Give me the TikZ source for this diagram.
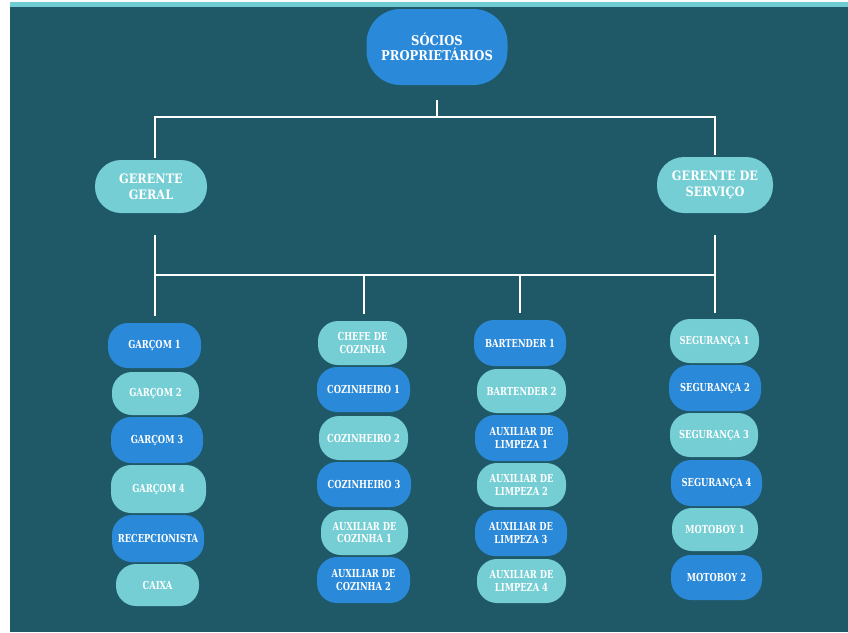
\documentclass[tikz,border=0pt]{standalone}
\usepackage{fontspec}
\setmainfont{DejaVu Serif}
\newfontfamily\lblfont{DejaVu Serif}[FakeStretch=0.76]
\newfontfamily\topfont{DejaVu Serif}[FakeStretch=0.86]
\newfontfamily\gerfont{DejaVu Serif}[FakeStretch=0.87]
\definecolor{bgc}{RGB}{31,89,104}
\definecolor{barc}{RGB}{110,204,210}
\definecolor{bluec}{RGB}{42,137,216}
\definecolor{tealc}{RGB}{116,206,212}
\tikzset{
  box/.style={rounded corners=20pt, inner sep=0pt, text=white, align=center,
    font=\lblfont\bfseries\fontsize{11}{12.5}\selectfont},
  bb/.style={box, fill=bluec},
  tb/.style={box, fill=tealc},
  conn/.style={draw=white, line width=2pt}
}
\newcommand{\bx}[7]{\node[#1, minimum width=#5pt, minimum height=#6pt] (#2) at (#3,#4) {#7};}
\begin{document}
\begin{tikzpicture}[x=1pt,y=-1pt]
\useasboundingbox (0,0) rectangle (848,632);
\fill[white] (0,0) rectangle (848,632);
\fill[bgc] (10,2) rectangle (848,632);
\fill[barc] (10,2) rectangle (848,7);

% top
\node[box, fill=bluec, rounded corners=34pt, minimum width=141pt, minimum height=76pt,
  font=\topfont\bfseries\fontsize{13.5}{15}\selectfont] (top) at (437,47) {SÓCIOS\\PROPRIETÁRIOS};
% managers
\node[box, fill=tealc, rounded corners=26pt, minimum width=112pt, minimum height=53pt,
  font=\gerfont\bfseries\fontsize{13}{16}\selectfont] (gg) at (151,186.5) {GERENTE\\GERAL};
\node[box, fill=tealc, rounded corners=27pt, minimum width=116pt, minimum height=56pt,
  font=\gerfont\bfseries\fontsize{13}{16}\selectfont] (gs) at (715,185) {GERENTE DE\\SERVIÇO};

% column 1
\bx{bb}{g1}{154.5}{345.5}{93}{45}{GARÇOM 1}
\bx{tb}{g2}{155.5}{393.5}{87}{43}{GARÇOM 2}
\bx{bb}{g3}{157}{440}{92}{46}{GARÇOM 3}
\bx{tb}{g4}{158.5}{489}{95}{48}{GARÇOM 4}
\bx{bb}{rc}{158}{538.5}{92}{47}{RECEPCIONISTA}
\bx{tb}{cx}{157.5}{585}{83}{42}{CAIXA}
% column 2
\bx{tb}{ch}{362.5}{343}{89}{44}{CHEFE DE\\COZINHA}
\bx{bb}{c1n}{363.5}{389.5}{93}{45}{COZINHEIRO 1}
\bx{tb}{c2n}{363.5}{438}{89}{44}{COZINHEIRO 2}
\bx{bb}{c3n}{364}{484.5}{94}{45}{COZINHEIRO 3}
\bx{tb}{ac1}{364.5}{532.5}{87}{45}{AUXILIAR DE\\COZINHA 1}
\bx{bb}{ac2}{363.5}{580}{93}{46}{AUXILIAR DE\\COZINHA 2}
% column 3
\bx{bb}{bt1}{520}{343}{92}{46}{BARTENDER 1}
\bx{tb}{bt2}{521.5}{391}{89}{44}{BARTENDER 2}
\bx{bb}{al1}{521.5}{438}{93}{46}{AUXILIAR DE\\LIMPEZA 1}
\bx{tb}{al2}{521.5}{485}{89}{44}{AUXILIAR DE\\LIMPEZA 2}
\bx{bb}{al3}{521}{533}{92}{46}{AUXILIAR DE\\LIMPEZA 3}
\bx{tb}{al4}{521.5}{581}{89}{44}{AUXILIAR DE\\LIMPEZA 4}
% column 4
\bx{tb}{s1}{714.5}{341}{89}{44}{SEGURANÇA 1}
\bx{bb}{s2}{715}{388}{92}{46}{SEGURANÇA 2}
\bx{tb}{s3}{714}{435}{88}{44}{SEGURANÇA 3}
\bx{bb}{s4}{716.5}{483}{91}{46}{SEGURANÇA 4}
\bx{tb}{m1}{715}{529.5}{86}{43}{MOTOBOY 1}
\bx{bb}{m2}{716.5}{577.5}{91}{45}{MOTOBOY 2}

% connectors
\coordinate (b1) at (155,117);
\coordinate (b2) at (715,117);
\coordinate (d1) at (155,275);
\coordinate (d2) at (364,275);
\coordinate (d3) at (520,275);
\coordinate (d4) at (715,275);
\path ([yshift=-15pt]top.south) coordinate (topb);
\path ([yshift=-22pt]gg.south) coordinate (ggb);
\path ([yshift=-22pt]gs.south) coordinate (gsb);
\path ([yshift=2pt]gg.north) coordinate (ggt);
\path ([yshift=2pt]gs.north) coordinate (gst);
\path ([yshift=7pt]g1.north) coordinate (g1t);
\path ([yshift=7pt]ch.north) coordinate (cht);
\path ([yshift=7pt]bt1.north) coordinate (bt1t);
\path ([yshift=6pt]s1.north) coordinate (s1t);

\draw[conn] (topb) -- (topb |- b1);
\draw[conn, line cap=rect] (b1) -- (b2);
\draw[conn] (b1) -- (b1 |- ggt);
\draw[conn] (b2) -- (b2 |- gst);
\draw[conn] (ggb -| d1) -- (d1);
\draw[conn] (gsb -| d4) -- (d4);
\draw[conn, line cap=rect] (d1) -- (d4);
\draw[conn] (d1) -- (d1 |- g1t);
\draw[conn] (d2) -- (d2 |- cht);
\draw[conn] (d3) -- (d3 |- bt1t);
\draw[conn] (d4) -- (d4 |- s1t);
\end{tikzpicture}
\end{document}
